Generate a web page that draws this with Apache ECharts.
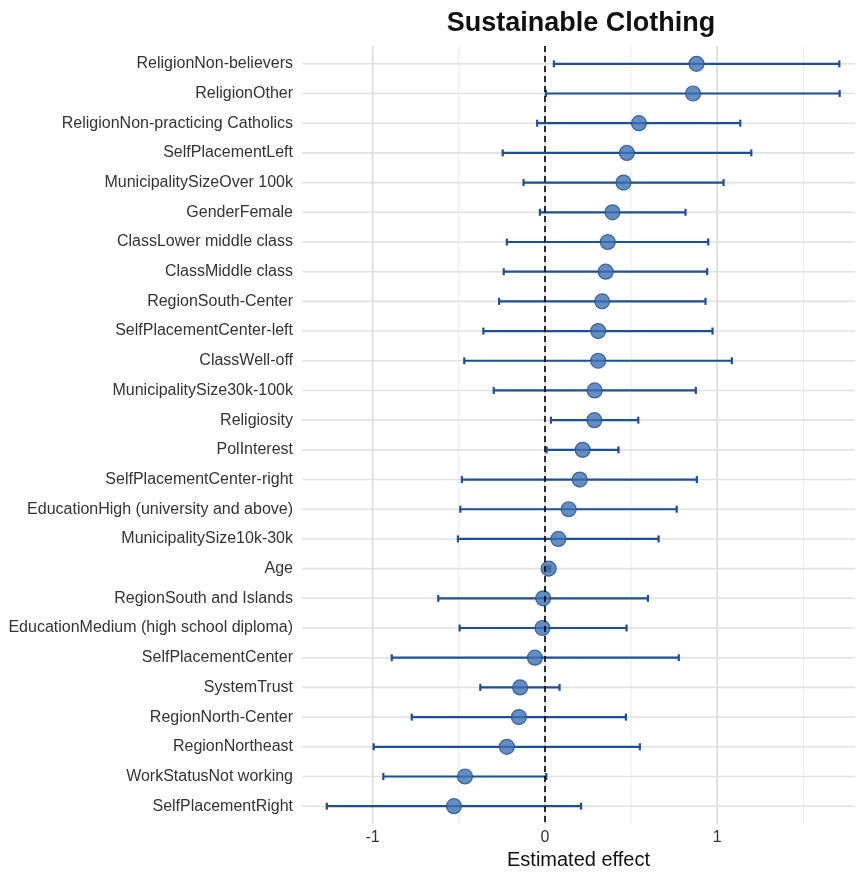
<!DOCTYPE html>
<html>
<head>
<meta charset="utf-8">
<title>Sustainable Clothing</title>
<script src="https://cdn.jsdelivr.net/npm/echarts@6/dist/echarts.min.js"></script>
<style>
  html, body { margin: 0; padding: 0; background: #ffffff; }
  #chart { width: 858px; height: 872px; }
</style>
</head>
<body>
<div id="chart"></div>
<script>
// Model terms, listed top to bottom
const categories = [
  'ReligionNon-believers',
  'ReligionOther',
  'ReligionNon-practicing Catholics',
  'SelfPlacementLeft',
  'MunicipalitySizeOver 100k',
  'GenderFemale',
  'ClassLower middle class',
  'ClassMiddle class',
  'RegionSouth-Center',
  'SelfPlacementCenter-left',
  'ClassWell-off',
  'MunicipalitySize30k-100k',
  'Religiosity',
  'PolInterest',
  'SelfPlacementCenter-right',
  'EducationHigh (university and above)',
  'MunicipalitySize10k-30k',
  'Age',
  'RegionSouth and Islands',
  'EducationMedium (high school diploma)',
  'SelfPlacementCenter',
  'SystemTrust',
  'RegionNorth-Center',
  'RegionNortheast',
  'WorkStatusNot working',
  'SelfPlacementRight'
];

// Point estimates
const estimates = [
  0.880, 0.860, 0.546, 0.476, 0.456, 0.392, 0.365, 0.353, 0.332, 0.309,
  0.309, 0.289, 0.287, 0.219, 0.202, 0.138, 0.078, 0.022, -0.010, -0.014,
  -0.058, -0.144, -0.151, -0.221, -0.464, -0.528
];

// Lower confidence bounds
const lowerBounds = [
  0.052, 0.006, -0.045, -0.245, -0.124, -0.029, -0.221, -0.239, -0.266, -0.357,
  -0.468, -0.297, 0.035, 0.010, -0.482, -0.491, -0.505, 0.014, -0.619, -0.495,
  -0.889, -0.375, -0.773, -0.994, -0.938, -1.266
];

// Upper confidence bounds
const upperBounds = [
  1.709, 1.711, 1.134, 1.198, 1.037, 0.816, 0.948, 0.942, 0.932, 0.973,
  1.085, 0.876, 0.542, 0.427, 0.882, 0.765, 0.660, 0.030, 0.598, 0.474,
  0.777, 0.085, 0.470, 0.551, 0.008, 0.210
];

// Labelled x ticks and light half-step grid lines
const xTickValues = [-1, 0, 1];
const xMinorGrid = [-0.5, 0.5, 1.5];

const rowIndex = categories.map((_, i) => i);

const BAR_COLOR = '#1c4f94';
const POINT_FILL = '#3d71b2';
const POINT_EDGE = '#1f4f8f';
const TEXT_COLOR = '#333333';
const FONT = 'Liberation Sans, Arial, sans-serif';

const chart = echarts.init(document.getElementById('chart'), null, { renderer: 'canvas' });

const pointData = estimates.map((v, i) => [v, i]);
const barData = rowIndex.map(i => [i, lowerBounds[i], upperBounds[i]]);
const rowData = rowIndex.map(i => [0, i]);

// vertical grid line drawn across the full plot height
function verticalLine(color, width) {
  return (params, api) => {
    const x = api.coord([api.value(0), 0])[0];
    const cs = params.coordSys;
    return {
      type: 'line',
      shape: { x1: x, y1: cs.y, x2: x, y2: cs.y + cs.height },
      style: { stroke: color, lineWidth: width }
    };
  };
}

chart.setOption({
  animation: false,
  backgroundColor: '#ffffff',
  title: {
    text: 'Sustainable Clothing',
    left: 576,
    top: 5,
    textAlign: 'center',
    textStyle: {
      fontFamily: FONT,
      fontSize: 27,
      fontWeight: 'bold',
      color: '#111111'
    }
  },
  grid: {
    left: 302, right: 3, top: 46, bottom: 48,
    containLabel: false,
    outerBoundsMode: 'none'
  },
  xAxis: {
    type: 'value',
    min: -1.41,
    max: 1.80,
    name: 'Estimated effect',
    nameLocation: 'middle',
    nameGap: 26,
    nameTextStyle: {
      fontFamily: FONT,
      fontSize: 20,
      color: '#111111'
    },
    axisLine: { show: false },
    axisTick: { show: false },
    splitLine: { show: false },
    axisLabel: {
      customValues: xTickValues,
      margin: 6,
      fontFamily: FONT,
      fontSize: 16,
      color: TEXT_COLOR,
      formatter: v => String(v)
    }
  },
  yAxis: {
    type: 'value',
    inverse: true,
    min: -0.6,
    max: categories.length - 1 + 0.6,
    axisLine: { show: false },
    axisTick: { show: false },
    splitLine: { show: false },
    axisLabel: {
      customValues: rowIndex,
      margin: 9,
      fontFamily: FONT,
      fontSize: 16,
      color: TEXT_COLOR,
      formatter: v => categories[Math.round(v)] || ''
    }
  },
  series: [
    {
      // light half-step vertical grid
      type: 'custom',
      z: 1,
      silent: true,
      data: xMinorGrid.map(v => [v, 0]),
      encode: { x: 0, y: 1 },
      renderItem: verticalLine('#ececec', 1)
    },
    {
      // labelled vertical grid
      type: 'custom',
      z: 1,
      silent: true,
      data: xTickValues.map(v => [v, 0]),
      encode: { x: 0, y: 1 },
      renderItem: verticalLine('#dadada', 1.6)
    },
    {
      // horizontal row guides
      type: 'custom',
      z: 1,
      silent: true,
      data: rowData,
      encode: { x: 0, y: 1 },
      renderItem: (params, api) => {
        const y = api.coord([0, api.value(1)])[1];
        const cs = params.coordSys;
        return {
          type: 'line',
          shape: { x1: cs.x, y1: y, x2: cs.x + cs.width, y2: y },
          style: { stroke: '#e2e2e2', lineWidth: 1.6 }
        };
      }
    },
    {
      // confidence interval bars with small end caps
      type: 'custom',
      z: 3,
      silent: true,
      data: barData,
      encode: { x: [1, 2], y: 0 },
      renderItem: (params, api) => {
        const row = api.value(0);
        const p1 = api.coord([api.value(1), row]);
        const p2 = api.coord([api.value(2), row]);
        const cap = 3.5;
        const style = { stroke: BAR_COLOR, lineWidth: 2.2 };
        return {
          type: 'group',
          children: [
            { type: 'line', shape: { x1: p1[0], y1: p1[1], x2: p2[0], y2: p2[1] }, style },
            { type: 'line', shape: { x1: p1[0], y1: p1[1] - cap, x2: p1[0], y2: p1[1] + cap }, style },
            { type: 'line', shape: { x1: p2[0], y1: p2[1] - cap, x2: p2[0], y2: p2[1] + cap }, style }
          ]
        };
      }
    },
    {
      type: 'scatter',
      z: 4,
      silent: true,
      data: pointData,
      symbol: 'circle',
      symbolSize: 15,
      itemStyle: { color: POINT_FILL, borderColor: POINT_EDGE, borderWidth: 1.2 }
    },
    {
      // reference line at zero
      type: 'scatter',
      z: 6,
      silent: true,
      data: [],
      markLine: {
        silent: true,
        symbol: 'none',
        label: { show: false },
        lineStyle: { color: '#000000', width: 1.6, type: [6, 4] },
        data: [{ xAxis: 0 }]
      }
    }
  ]
});
</script>
</body>
</html>
